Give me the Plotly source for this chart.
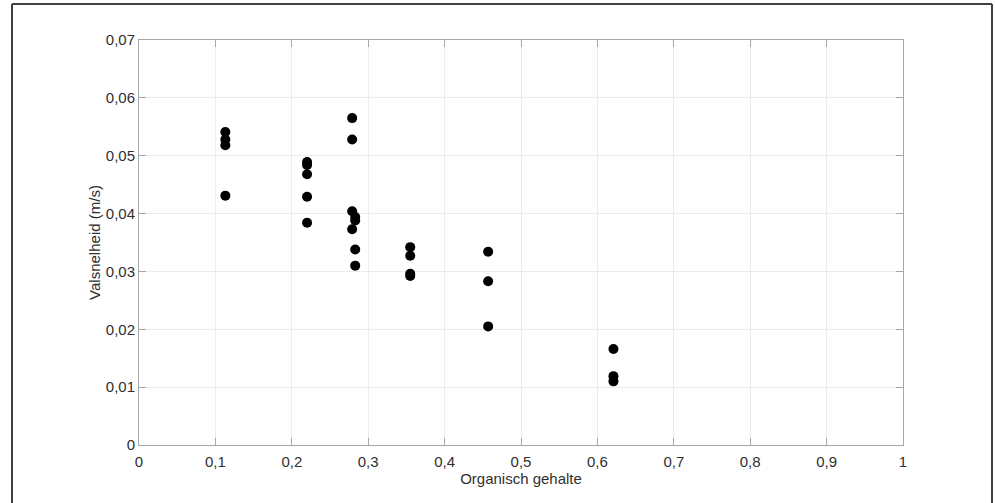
import plotly.graph_objects as go

# Organic content per sample group and measured settling velocities (m/s)
organic_content = [0.113] * 4 + [0.220] * 5 + [0.279] * 4 + [0.283] * 4 + [0.355] * 4 + [0.457] * 3 + [0.621] * 3
velocity = [
    0.0541, 0.0528, 0.0518, 0.0431,
    0.0489, 0.0484, 0.0468, 0.0429, 0.0384,
    0.0565, 0.0528, 0.0404, 0.0373,
    0.0394, 0.0388, 0.0338, 0.0310,
    0.0342, 0.0327, 0.0296, 0.0292,
    0.0334, 0.0283, 0.0205,
    0.0166, 0.0119, 0.0110,
]

x_ticks = [0, 0.1, 0.2, 0.3, 0.4, 0.5, 0.6, 0.7, 0.8, 0.9, 1]
y_ticks = [0, 0.01, 0.02, 0.03, 0.04, 0.05, 0.06, 0.07]

W, H = 995, 503
L, R, T, B = 139, 92, 40, 58
pw, ph = W - L - R, H - T - B

font = "Liberation Sans, Arial, Helvetica, sans-serif"
text_col = "#303030"
axis_col = "#a6a6a6"
grid_col = "#ececec"
fs = 15

fig = go.Figure(
    go.Scatter(
        x=organic_content,
        y=velocity,
        mode="markers",
        marker=dict(color="black", size=10, line=dict(width=0)),
        showlegend=False,
    )
)

axis_common = dict(
    showline=True,
    linecolor=axis_col,
    linewidth=1,
    mirror="ticks",
    ticks="inside",
    ticklen=7,
    tickcolor=axis_col,
    tickwidth=1,
    showgrid=True,
    gridcolor=grid_col,
    gridwidth=1,
    zeroline=False,
    tickfont=dict(family=font, size=fs, color=text_col),
)

fig.update_xaxes(
    range=[0, 1],
    tickvals=x_ticks,
    ticklabelstandoff=3,
    title=dict(text="Organisch gehalte", font=dict(family=font, size=fs, color=text_col), standoff=2),
    **axis_common,
)
fig.update_yaxes(
    range=[0, 0.07],
    tickvals=y_ticks,
    title=dict(text="Valsnelheid (m/s)", font=dict(family=font, size=fs, color=text_col), standoff=1),
    **axis_common,
)


def px_x(p):
    return (p - L) / pw


def px_y(p):
    return (H - B - p) / ph


# Outer frame around the figure
frame = dict(color="#404040", width=2)
fig.add_shape(type="line", xref="paper", yref="paper", x0=px_x(12), x1=px_x(12), y0=px_y(4), y1=px_y(520), line=frame)
fig.add_shape(type="line", xref="paper", yref="paper", x0=px_x(992), x1=px_x(992), y0=px_y(4), y1=px_y(520), line=frame)
fig.add_shape(type="line", xref="paper", yref="paper", x0=px_x(12), x1=px_x(992), y0=px_y(4), y1=px_y(4), line=frame)

fig.update_layout(
    width=W,
    height=H,
    margin=dict(l=L, r=R, t=T, b=B),
    paper_bgcolor="white",
    plot_bgcolor="white",
    separators=",.",
    font=dict(family=font, size=fs, color=text_col),
)

fig.write_html("out.html")
